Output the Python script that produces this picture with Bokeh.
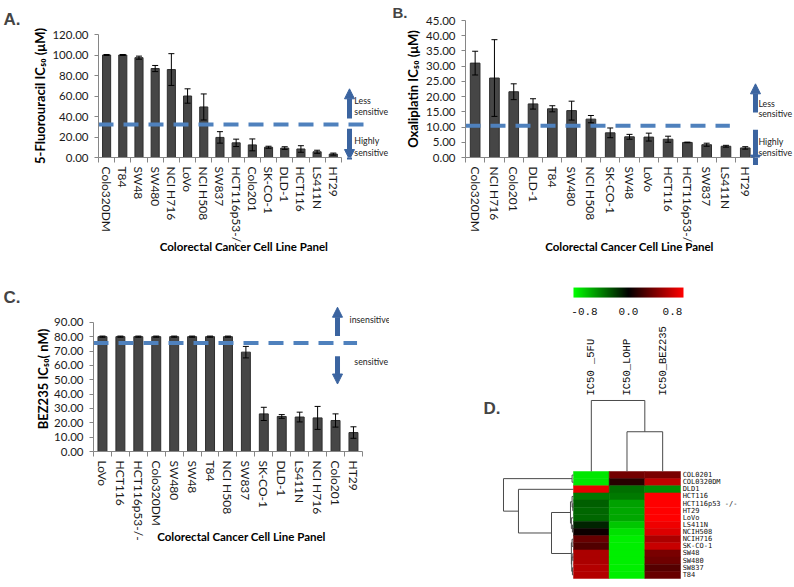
import numpy as np
from bokeh.plotting import figure
from bokeh.models import (ColumnDataSource, Range1d, FixedTicker, NumeralTickFormatter,
                          Whisker, TeeHead, Arrow, NormalHead, Label, LinearColorMapper)
from bokeh.layouts import row, column
from bokeh.embed import file_html
from bokeh.resources import INLINE
from bokeh.core.properties import value

# ---------------- data ----------------
# Panel A: 5-Fluorouracil
fu_cells = ["Colo320DM", "T84", "SW48", "SW480", "NCI H716", "LoVo", "NCI H508", "SW837",
            "HCT116p53-/-", "Colo201", "SK-CO-1", "DLD-1", "HCT116", "LS411N", "HT29"]
fu_ic50 = [100.0, 100.0, 97.4, 86.8, 85.8, 60.0, 49.3, 19.6, 14.3, 12.3, 10.0, 9.2, 8.3, 5.6, 3.3]
fu_err = [0.5, 0.5, 1.5, 3.0, 15.5, 7.0, 12.7, 5.6, 3.6, 5.8, 1.0, 1.3, 3.2, 1.5, 1.0]
fu_threshold = 32.2

# Panel B: Oxaliplatin
ox_cells = ["Colo320DM", "NCI H716", "Colo201", "DLD-1", "T84", "SW480", "NCI H508", "SK-CO-1",
            "SW48", "LoVo", "HCT116", "HCT116p53-/-", "SW837", "LS411N", "HT29"]
ox_ic50 = [31.0, 26.1, 21.6, 17.6, 16.0, 15.4, 12.6, 8.1, 6.8, 6.7, 6.0, 4.95, 4.2, 3.7, 3.15]
ox_err = [3.9, 12.6, 2.6, 1.7, 1.0, 3.1, 1.2, 1.6, 0.8, 1.3, 1.0, 0.1, 0.5, 0.3, 0.4]
ox_threshold = 10.4

# Panel C: BEZ235
bez_cells = ["LoVo", "HCT116", "HCT116p53-/-", "Colo320DM", "SW480", "SW48", "T84", "NCI H508",
             "SW837", "SK-CO-1", "DLD-1", "LS411N", "NCI H716", "Colo201", "HT29"]
bez_ic50 = [80.0, 80.0, 80.0, 80.0, 80.0, 80.0, 80.0, 80.0, 69.2, 26.2, 24.4, 24.0, 23.4, 21.6, 13.2]
bez_err = [0.4, 0.4, 0.4, 0.4, 0.4, 0.4, 0.4, 0.4, 4.0, 4.6, 1.3, 3.4, 8.0, 4.6, 4.0]
bez_threshold = 75.5

# Panel D: heatmap (rows x [5FU, LOHP, BEZ235])
hm_rows = ["COL0201", "COL0320DM", "DLD1", "HCT116", "HCT116p53 -/-", "HT29", "LoVo", "LS411N",
           "NCIH508", "NCIH716", "SK-CO-1", "SW48", "SW480", "SW837", "T84"]
hm_cols = ["IC50 _5FU", "IC50_LOHP", "IC50_BEZ235"]
hm_5fu = [-0.9, -0.9, 0.9, -0.47, -0.37, -0.4, -0.4, -0.14, 0.05, 0.4, 0.32, 0.67, 0.67, 0.7, 0.7]
hm_lohp = [0.45, 0.15, -0.43, -0.47, -0.63, -0.65, -0.65, -0.78, -0.88, -0.93, -0.93, -0.93, -0.93, -0.93, -0.93]
hm_bez = [0.47, 0.75, -0.55, 1.0, 1.0, 1.0, 1.0, 0.93, 0.86, 0.67, 0.78, 0.47, 0.43, 0.33, 0.4]
cbar_ticks = [-0.8, 0.0, 0.8]
# dendrograms: (height, left, right), leaves are indices
row_tree = (1.0, (0.02, 0, 1),
            (0.786, 2, (0.314,
                        (0.043, (0.02, 3, (0.01, 4, 5)), (0.03, 6, (0.015, 7, 8))),
                        (0.03, (0.02, 9, 10), (0.025, (0.01, 11, 12), (0.015, 13, 14))))))
col_tree = (1.0, 0, (0.56, 1, 2))

# ---------------- style ----------------
FONT = "Lato"
AX = "#868686"
BAR = "#464646"
DASH = "#4f81bd"
ARROW = "#3b64a0"


def bar_panel(cells, vals, errs, ylabel, yticks, yend, width, height,
              bl, bt, bb, xend, ylab_standoff, xlab_standoff):
    n = len(cells)
    xs = list(range(n))
    p = figure(width=width, height=height, x_range=Range1d(-0.5, xend),
               y_range=Range1d(0, yend), toolbar_location=None, output_backend="svg",
               min_border_left=bl, min_border_top=bt, min_border_bottom=bb, min_border_right=0)
    p.frame_align = False
    src = ColumnDataSource(dict(x=xs, top=vals,
                                upper=[v + e for v, e in zip(vals, errs)],
                                lower=[v - e for v, e in zip(vals, errs)]))
    p.vbar(x="x", top="top", width=0.5, source=src, fill_color=BAR, line_color="#2e2e2e")
    w = Whisker(source=src, base="x", upper="upper", lower="lower", line_color="black",
                line_width=1, level="annotation",
                upper_head=TeeHead(size=6, line_color="black", line_width=1),
                lower_head=TeeHead(size=6, line_color="black", line_width=1))
    p.add_layout(w)
    p.xaxis.ticker = FixedTicker(ticks=xs, minor_ticks=[i - 0.5 for i in range(n + 1)])
    p.xaxis.major_label_overrides = {i: c for i, c in enumerate(cells)}
    p.xaxis.major_label_orientation = "vertical"
    p.xaxis.bounds = (-0.5, n - 0.5)
    p.xaxis.major_tick_line_color = None
    p.xaxis.major_tick_out = 2
    p.xaxis.minor_tick_line_color = AX
    p.xaxis.minor_tick_out = 5
    p.xaxis.minor_tick_in = 0
    p.xaxis.axis_line_color = AX
    p.xaxis.major_label_standoff = 4
    p.xaxis.axis_label = "Colorectal Cancer Cell Line Panel"
    p.yaxis.axis_label = ylabel
    p.yaxis.ticker = FixedTicker(ticks=yticks)
    p.yaxis.bounds = (0, yticks[-1])
    p.yaxis.formatter = NumeralTickFormatter(format="0.00")
    p.yaxis.minor_tick_line_color = None
    p.yaxis.major_tick_out = 4
    p.yaxis.major_tick_in = 0
    p.yaxis.major_tick_line_color = AX
    p.yaxis.axis_line_color = AX
    p.yaxis.major_label_standoff = 6
    for ax in (p.xaxis[0], p.yaxis[0]):
        ax.major_label_text_font = FONT
        ax.major_label_text_font_size = "12px"
        ax.major_label_text_color = "#1a1a1a"
        ax.axis_label_text_font = FONT
        ax.axis_label_text_font_style = "bold"
        ax.axis_label_text_color = "black"
    p.yaxis.major_label_text_font_size = "11.5px"
    p.xaxis.axis_label_text_font_size = "11.5px"
    p.yaxis.axis_label_text_font_size = "13px"
    p.xaxis.axis_label_standoff = xlab_standoff
    p.yaxis.axis_label_standoff = ylab_standoff
    p.xgrid.visible = False
    p.ygrid.visible = False
    p.outline_line_color = None
    return p


def add_threshold(p, thr, x_end):
    p.line(x=[-0.5, x_end], y=[thr, thr], line_color=DASH, line_width=4, line_dash="15 10")


def add_arrow(p, x, y0, y1):
    p.add_layout(Arrow(x_start=x, y_start=y0, x_end=x, y_end=y1, line_color=ARROW,
                       line_width=5, start=None,
                       end=NormalHead(size=10, fill_color=ARROW, line_color=ARROW)))


def add_texts(p, xs, ys, texts, size="8.8px"):
    p.text(x=xs, y=ys, text=texts, text_font=value(FONT), text_font_size=size,
           text_baseline="middle", text_align="left", text_color="#222222")


def panel_title(p, t, offset, standoff, size="17px"):
    p.title.text = t
    p.title.align = "left"
    p.title.offset = offset
    p.title.standoff = standoff
    p.title.text_font = "Liberation Sans"
    p.title.text_font_style = "bold"
    p.title.text_font_size = size


# ---------------- Panel A ----------------
pA = bar_panel(fu_cells, fu_ic50, fu_err, "5-Fluorouracil IC\u2085\u2080 (\u03bcM)",
               list(range(0, 121, 20)), 120, 389, 285, 98, 34, 128, 17.47, 1, -10)
add_threshold(pA, fu_threshold, 16.2)
add_arrow(pA, 15.0, 38, 67)
add_arrow(pA, 15.0, 28, -2)
add_texts(pA, [15.3] * 4, [55.6, 44.9, 16.6, 4.9], ["Less", "sensitive", "Highly", "sensitive"])
panel_title(pA, "A.", -95, 12)

# ---------------- Panel B ----------------
pB = bar_panel(ox_cells, ox_ic50, ox_err, "Oxaliplatin IC\u2085\u2080 (\u03bcM)",
               list(range(0, 46, 5)), 45, 404, 285, 76, 20, 128, 16.5, 2, -10)
add_threshold(pB, ox_threshold, 13.2)
add_arrow(pB, 14.53, 14.8, 24.2)
add_arrow(pB, 14.53, 9.1, -2.5)
add_texts(pB, [14.68] * 4, [17.9, 14.5, 5.35, 1.6], ["Less", "sensitive", "Highly", "sensitive"])
panel_title(pB, "B.", -73, 0, "15px")

# ---------------- Panel C ----------------
pC = bar_panel(bez_cells, bez_ic50, bez_err, "BEZ235 IC\u2085\u2080( nM)",
               list(range(0, 91, 10)), 101, 389, 301, 93, 21, 135, 16.01, 0, -14)
add_threshold(pC, bez_threshold, 14.2)
add_arrow(pC, 13.11, 80.4, 100.5)
add_arrow(pC, 13.11, 66.4, 47)
add_texts(pC, [13.78, 14.05], [92, 63], ["insensitive", "sensitive"])
panel_title(pC, "C.", -90, 0)

# ---------------- Panel D ----------------
ncol = len(hm_cols)
nrow = len(hm_rows)
row_scale = 70 / 35.67   # x units per unit of row-tree height
col_scale = 71 / 7.13    # y units per unit of col-tree height

pD = figure(width=404, height=301, x_range=Range1d(-5.658, 5.668),
            y_range=Range1d(15.63, -26.587), toolbar_location=None, output_backend="svg",
            x_axis_location=None, y_axis_location=None, min_border=0)
pD.frame_align = False
pD.grid.visible = False
pD.outline_line_color = None

palette = []
for i in range(256):
    t = i / 255 * 2 - 1
    if t < 0:
        palette.append("#%02x%02x%02x" % (0, int(round(-t * 255)), 0))
    else:
        palette.append("#%02x%02x%02x" % (int(round(t * 255)), 0, 0))
mapper = LinearColorMapper(palette=palette, low=-1, high=1)

hx, hy, hv = [], [], []
for j, colvals in enumerate([hm_5fu, hm_lohp, hm_bez]):
    for i, v in enumerate(colvals):
        hx.append(j)
        hy.append(i)
        hv.append(v)
hsrc = ColumnDataSource(dict(x=hx, y=hy, v=hv))
pD.rect(x="x", y="y", width=1, height=1, source=hsrc,
        fill_color={"field": "v", "transform": mapper},
        line_color={"field": "v", "transform": mapper}, line_width=0.5)


def dendro(node, segs, to_h):
    if isinstance(node, int):
        return float(node), 0.0
    h, a, b = node
    pa, ha = dendro(a, segs, to_h)
    pb, hb = dendro(b, segs, to_h)
    segs.append((pa, to_h(ha), pa, to_h(h)))
    segs.append((pb, to_h(hb), pb, to_h(h)))
    segs.append((pa, to_h(h), pb, to_h(h)))
    return (pa + pb) / 2, h


rsegs = []
dendro(row_tree, rsegs, lambda h: -0.5 - h * row_scale)
pD.segment(x0=[s[1] for s in rsegs], y0=[s[0] for s in rsegs],
           x1=[s[3] for s in rsegs], y1=[s[2] for s in rsegs], line_color="#4a4a4a", line_width=1)
csegs = []
dendro(col_tree, csegs, lambda h: -0.5 - h * col_scale)
pD.segment(x0=[s[0] for s in csegs], y0=[s[1] for s in csegs],
           x1=[s[2] for s in csegs], y1=[s[3] for s in csegs], line_color="#4a4a4a", line_width=1)

pD.text(x=[ncol - 0.5 + 0.06] * nrow, y=list(range(nrow)), text=hm_rows,
        text_font=value("DejaVu Sans Mono"), text_font_size="7px",
        text_baseline="middle", text_align="left", text_color="#111111")
pD.text(x=list(range(ncol)), y=[-11.16] * ncol, text=hm_cols, angle=np.pi / 2,
        text_font=value("Liberation Mono"), text_font_size="10.5px",
        text_baseline="middle", text_align="left", text_color="#111111")

# colour bar
cb_left, cb_w = -0.5, 110 / 35.67
cb_top, cb_h = -26.3, 10 / 7.13
pD.image(image=[np.linspace(-1, 1, 256).reshape(1, -1)], x=cb_left, y=cb_top, dw=cb_w, dh=cb_h,
         color_mapper=mapper)
pD.text(x=[cb_left + (t + 1) / 2 * cb_w for t in cbar_ticks], y=[-22.94] * len(cbar_ticks),
        text=["%.1f" % t for t in cbar_ticks], text_font=value("Liberation Mono"),
        text_font_size="11px", text_baseline="middle", text_align="center", text_color="#111111")
pD.add_layout(Label(x=-3.02, y=-9.34, text="D.", text_font="Liberation Sans",
                    text_font_style="bold", text_font_size="17px",
                    text_baseline="middle", text_align="left"))

layout = row(column(pA, pC), column(pB, pD))
open("out.html", "w").write(file_html(layout, INLINE))
